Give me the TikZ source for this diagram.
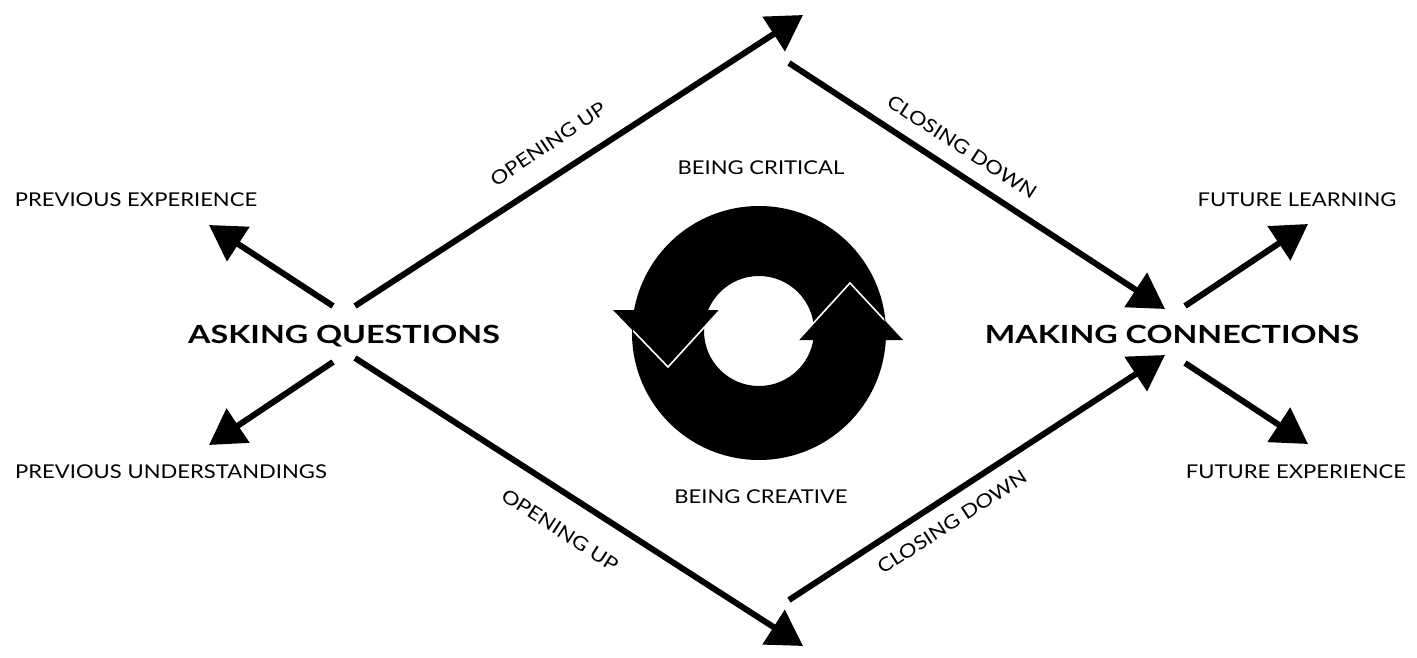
\documentclass[tikz,border=0pt]{standalone}
\usepackage{fontspec}
\setmainfont{Lato}
\newcommand\hwide[1]{\scalebox{1.16}[1]{#1}}
\newcommand\bwide[1]{\scalebox{1.29}[1]{#1}}
\usetikzlibrary{arrows.meta}
\begin{document}
\begin{tikzpicture}[x=1pt,y=-1pt,
  conn/.style={line width=6pt, -{Triangle[length=35pt,width=40pt]}},
  lbl/.style={font=\fontsize{19}{20}\selectfont, inner sep=0pt, anchor=base},
  big/.style={font=\fontsize{25}{26}\selectfont\bfseries, inner sep=0pt, anchor=base},
  rlbl/.style={font=\fontsize{19}{20}\selectfont, inner sep=0pt},
  gap/.style={white, line width=1.6pt}]
\useasboundingbox (0,0) rectangle (1417,658);
% end points
\coordinate (aqNE) at (355,306);
\coordinate (top)  at (803,15);
\coordinate (topS) at (789,63);
\coordinate (mcNW) at (1165,309);
\coordinate (aqSE) at (355,358);
\coordinate (bot)  at (803,646);
\coordinate (botN) at (789,600);
\coordinate (mcSW) at (1165,355);
\coordinate (aqNW) at (333,306);
\coordinate (peTip) at (209,225);
\coordinate (aqSW) at (333,362);
\coordinate (puTip) at (209,445);
\coordinate (mcNE) at (1185,306);
\coordinate (flTip) at (1308,224);
\coordinate (mcSE) at (1185,363);
\coordinate (feTip) at (1308,444);
% connectors
\draw[conn] (aqNE) -- (top);
\draw[conn] (topS) -- (mcNW);
\draw[conn] (aqSE) -- (bot);
\draw[conn] (botN) -- (mcSW);
\draw[conn] (aqNW) -- (peTip);
\draw[conn] (aqSW) -- (puTip);
\draw[conn] (mcNE) -- (flTip);
\draw[conn] (mcSE) -- (feTip);
% labels
\node[lbl] (pe) at (136,206) {\hwide{PREVIOUS EXPERIENCE}};
\node[lbl] (pu) at (171,478) {\hwide{PREVIOUS UNDERSTANDINGS}};
\node[lbl] (fl) at (1297,206) {\hwide{FUTURE LEARNING}};
\node[lbl] (fe) at (1296,478) {\hwide{FUTURE EXPERIENCE}};
\node[big] (ask) at (344,343) {\bwide{ASKING QUESTIONS}};
\node[big] (make) at (1172,343) {\bwide{MAKING CONNECTIONS}};
\node[lbl] (crit) at (761,175) {\hwide{BEING CRITICAL}};
\node[lbl] (creat) at (761,503) {\hwide{BEING CREATIVE}};
\node[rlbl, rotate=34] (ou1) at (548,144) {\hwide{OPENING UP}};
\node[rlbl, rotate=-33] (cd1) at (962,147) {\hwide{CLOSING DOWN}};
\node[rlbl, rotate=-33] (ou2) at (560,530) {\hwide{OPENING UP}};
\node[rlbl, rotate=33] (cd2) at (952,522) {\hwide{CLOSING DOWN}};
% cycle symbol
\fill[even odd rule] (759,333) circle[radius=127] (759,331) circle[radius=55];
\fill (613,310) -- (720,310) -- (668,367) -- cycle;
\fill (798,340) -- (903,340) -- (850,283) -- cycle;
\begin{scope}
  \clip (759,333) circle[radius=126];
  \draw[gap] (613,310) -- (668,367) -- (720,310);
  \draw[gap] (798,340) -- (850,283) -- (903,340);
\end{scope}
\end{tikzpicture}
\end{document}
